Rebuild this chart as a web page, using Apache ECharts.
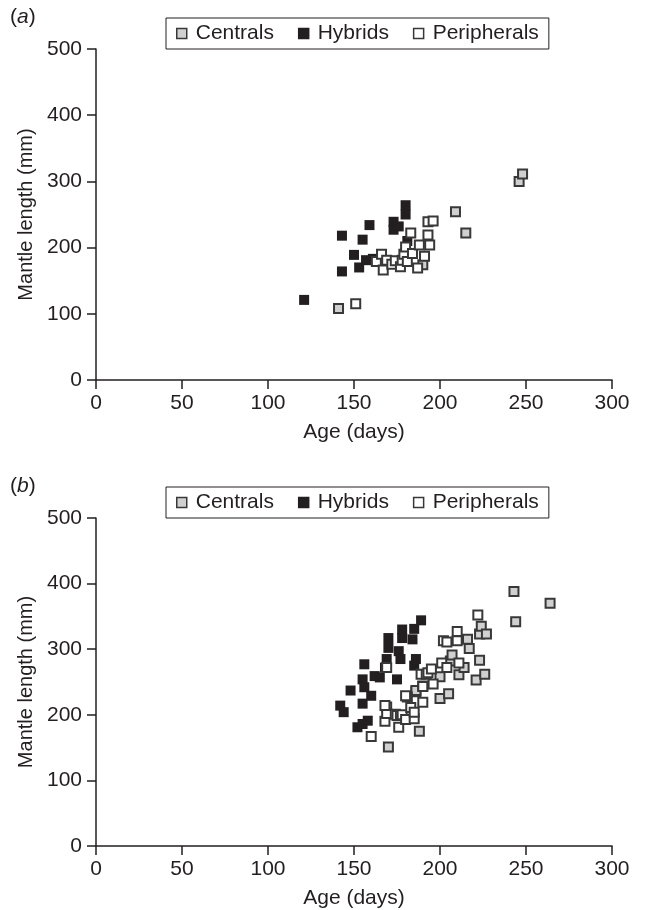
<!DOCTYPE html>
<html>
<head>
<meta charset="utf-8">
<script src="https://cdn.jsdelivr.net/npm/echarts@6/dist/echarts.min.js"></script>
<style>
  html, body { margin: 0; padding: 0; background: #fff; }
  #container { width: 645px; height: 910px; }
</style>
</head>
<body>
<div id="container"></div>
<script>
// axis ticks
const xTicks = [0, 50, 100, 150, 200, 250, 300]
const yTicks = [0, 100, 200, 300, 400, 500]
const seriesNames = ['Centrals', 'Hybrids', 'Peripherals']

// panel (a): [age (days), mantle length (mm)]
const centralsA = [[141, 108], [190, 174], [209, 254], [215, 222], [246, 300], [248, 311]]
const hybridsA = [
  [121, 121], [143, 218], [143, 164], [150, 189], [153, 170], [155, 212], [157, 181],
  [159, 234], [161, 183], [173, 239], [173, 227], [176, 232], [180, 264], [180, 250], [181, 210]
]
const peripheralsA = [
  [151, 115], [163, 179], [166, 190], [167, 166], [169, 181], [172, 175], [174, 180],
  [177, 171], [178, 181], [179, 190], [180, 201], [181, 179], [183, 222], [184, 191],
  [187, 169], [188, 204], [191, 187], [193, 219], [193, 239], [196, 240], [194, 204]
]

// panel (b)
const centralsB = [
  [170, 151], [188, 175], [186, 235], [186, 237], [200, 258], [200, 225], [205, 232],
  [206, 282], [207, 291], [211, 261], [214, 272], [216, 315], [217, 301], [221, 253],
  [223, 283], [223, 323], [224, 335], [226, 262], [227, 323], [243, 388], [244, 342], [264, 370]
]
const hybridsB = [
  [142, 214], [144, 204], [148, 237], [152, 181], [155, 186], [155, 217], [155, 254],
  [156, 242], [156, 277], [158, 191], [160, 229], [162, 259], [165, 257], [168, 272],
  [169, 285], [170, 302], [170, 317], [175, 254], [176, 297], [177, 285], [178, 317],
  [178, 330], [184, 315], [185, 275], [186, 285], [185, 331], [189, 344]
]
const peripheralsB = [
  [160, 167], [168, 190], [169, 212], [169, 202], [168, 214], [169, 272], [174, 201],
  [175, 199], [176, 181], [177, 199], [178, 200], [180, 193], [181, 227], [183, 211],
  [185, 194], [185, 204], [180, 229], [190, 219], [189, 262], [190, 244], [192, 262],
  [193, 264], [195, 270], [196, 247], [190, 243], [201, 279], [202, 313], [204, 272],
  [204, 311], [210, 327], [210, 313], [211, 279], [222, 352]
]

const font = 'Liberation Sans, Arial, sans-serif'
const ink = '#231f20'

const styleFor = {
  Centrals: { color: '#d0d0d0', borderColor: '#383838', borderWidth: 2, opacity: 1 },
  Hybrids: { color: '#231f20', borderColor: '#231f20', borderWidth: 0, opacity: 1 },
  Peripherals: { color: '#ffffff', borderColor: '#383838', borderWidth: 2, opacity: 1 }
}

function xAxisFor (gridIndex) {
  return {
    gridIndex: gridIndex,
    type: 'value',
    min: 0,
    max: 300,
    interval: 50,
    name: 'Age (days)',
    nameLocation: 'middle',
    nameGap: 42,
    nameTextStyle: { fontFamily: font, fontSize: 21, color: ink },
    axisLine: { show: true, onZero: false, lineStyle: { color: ink, width: 1.5 } },
    axisTick: { show: true, inside: false, length: 9, lineStyle: { color: ink, width: 1.5 } },
    axisLabel: { fontFamily: font, fontSize: 21, color: ink, margin: 13 },
    splitLine: { show: false }
  }
}

function yAxisFor (gridIndex) {
  return {
    gridIndex: gridIndex,
    type: 'value',
    min: 0,
    max: 500,
    interval: 100,
    name: 'Mantle length (mm)',
    nameLocation: 'middle',
    nameGap: 51,
    nameTextStyle: { fontFamily: font, fontSize: 20, color: ink },
    axisLine: { show: true, onZero: false, lineStyle: { color: ink, width: 1.5 } },
    axisTick: { show: true, inside: false, length: 9, lineStyle: { color: ink, width: 1.5 } },
    axisLabel: { fontFamily: font, fontSize: 21, color: ink, margin: 14 },
    splitLine: { show: false }
  }
}

function scatter (name, data, idx) {
  return {
    name: name,
    type: 'scatter',
    xAxisIndex: idx,
    yAxisIndex: idx,
    data: data,
    symbol: 'rect',
    symbolSize: name === 'Hybrids' ? 10 : 9,
    itemStyle: styleFor[name],
    emphasis: { disabled: true },
    z: name === 'Peripherals' ? 4 : (name === 'Centrals' ? 3 : 2)
  }
}

function legendFor (top) {
  return {
    data: seriesNames,
    left: 166,
    top: top,
    orient: 'horizontal',
    icon: 'rect',
    itemWidth: 10,
    itemHeight: 10,
    itemGap: 24,
    padding: [5, 10, 5, 10],
    borderColor: ink,
    borderWidth: 1,
    selectedMode: false,
    itemStyle: { borderWidth: 1.5, opacity: 1 },
    textStyle: { fontFamily: font, fontSize: 21, color: ink, padding: [0, 0, 0, 4] }
  }
}

const option = {
  animation: false,
  backgroundColor: '#fff',
  title: [
    {
      text: '({i|a})',
      left: 5,
      top: 2,
      textStyle: { fontFamily: font, fontSize: 21, fontWeight: 'normal', color: ink, rich: { i: { fontFamily: font, fontSize: 21, fontStyle: 'italic', color: ink } } }
    },
    {
      text: '({i|b})',
      left: 5,
      top: 471,
      textStyle: { fontFamily: font, fontSize: 21, fontWeight: 'normal', color: ink, rich: { i: { fontFamily: font, fontSize: 21, fontStyle: 'italic', color: ink } } }
    }
  ],
  legend: [legendFor(18), legendFor(487)],
  grid: [
    { left: 96, right: 33, top: 49, height: 331 },
    { left: 96, right: 33, top: 518, height: 330 }
  ],
  xAxis: [xAxisFor(0), xAxisFor(1)],
  yAxis: [yAxisFor(0), yAxisFor(1)],
  series: [
    scatter('Hybrids', hybridsA, 0),
    scatter('Centrals', centralsA, 0),
    scatter('Peripherals', peripheralsA, 0),
    scatter('Hybrids', hybridsB, 1),
    scatter('Centrals', centralsB, 1),
    scatter('Peripherals', peripheralsB, 1)
  ]
}

const myChart = echarts.init(document.getElementById('container'))
myChart.setOption(option)
</script>
</body>
</html>
